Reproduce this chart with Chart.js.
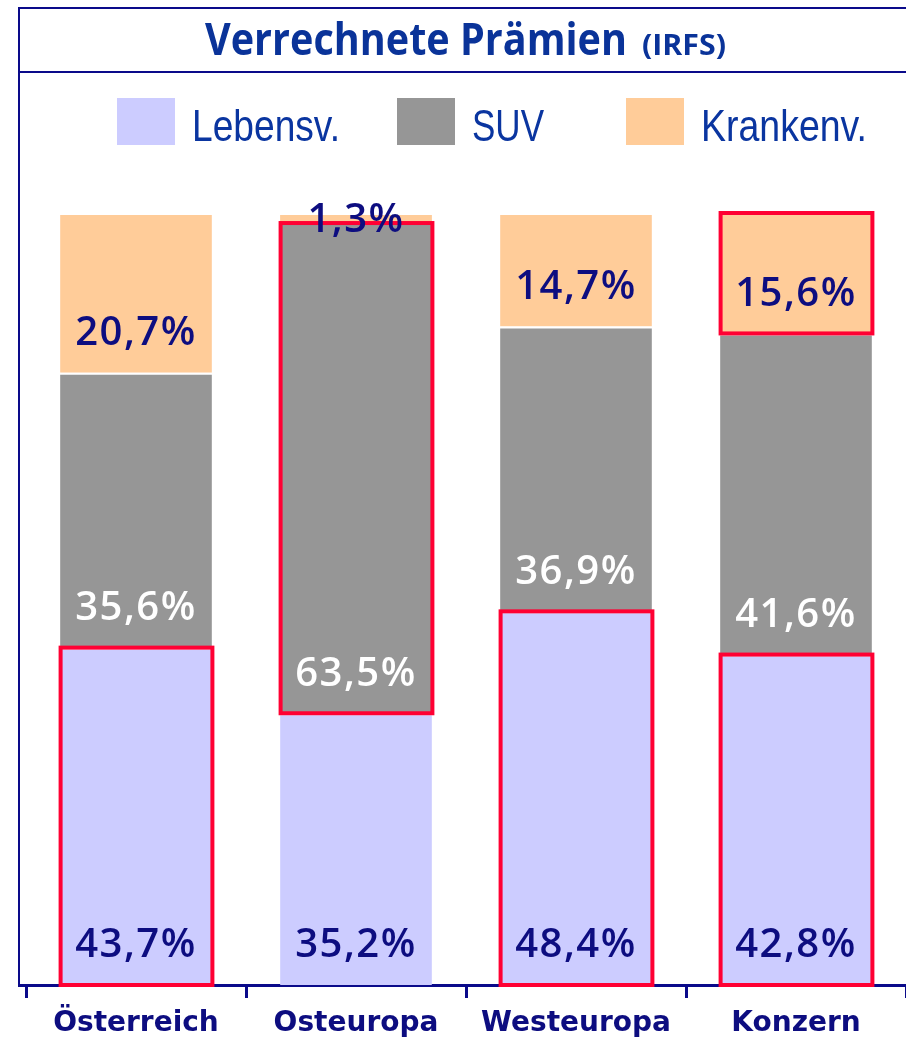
<!DOCTYPE html>
<html>
<head>
<meta charset="utf-8">
<script src="https://cdn.jsdelivr.net/npm/chart.js@4"></script>
<style>
html,body{margin:0;padding:0;background:#fff;}
#wrap{position:relative;width:906px;height:1043px;}
canvas{display:block;}
</style>
</head>
<body>
<div id="wrap"><canvas id="c" width="906" height="1043"></canvas></div>
<script>
const titleMain = "Verrechnete Prämien";
const titleSub = "(IRFS)";
const categories = ["Österreich", "Osteuropa", "Westeuropa", "Konzern"];
const seriesNames = ["Lebensv.", "SUV", "Krankenv."];
const lebensv = [43.7, 35.2, 48.4, 42.8];
const suv = [35.6, 63.5, 36.9, 41.6];
const krankenv = [20.7, 1.3, 14.7, 15.6];
const seriesColors = ["#ccccff", "#969696", "#ffcc99"];
const labelColors = ["#0d0d80", "#ffffff", "#0d0d80"];
// highlighted (red-framed) segments per series
const hlLebensv = [true, false, true, true];
const hlSuv = [false, true, false, false];
const hlKrankenv = [false, false, false, true];

const NAVY = "#0a0a8a";
const RED = "#ff0033";
const BLUE_TXT = "#0a35a0";

function fmt(v){ return v.toFixed(1).replace('.', ',') + '%'; }

function mkDataset(i, data, hl){
  return {
    label: seriesNames[i],
    data: data,
    backgroundColor: seriesColors[i],
    borderColor: '#ffffff',
    borderWidth: {top:2,left:0,right:0,bottom:0},
    borderSkipped: false,
    hl: hl
  };
}

function drawScaledText(ctx, text, x, y, targetW){
  const w = ctx.measureText(text).width;
  const sx = targetW ? targetW / w : 1;
  ctx.save();
  ctx.translate(x, y);
  ctx.scale(sx, 1);
  ctx.fillText(text, 0, 0);
  ctx.restore();
}

const decor = {
  id: 'decor',
  afterDraw(chart){
    const ctx = chart.ctx;
    const area = chart.chartArea;
    ctx.save();
    // frame
    ctx.strokeStyle = NAVY;
    ctx.lineWidth = 2;
    ctx.beginPath();
    ctx.moveTo(906, 8); ctx.lineTo(19, 8); ctx.lineTo(19, area.bottom);
    ctx.moveTo(19, 72); ctx.lineTo(906, 72);
    ctx.stroke();
    ctx.lineWidth = 3;
    ctx.beginPath();
    ctx.moveTo(18, area.bottom + 0.5); ctx.lineTo(area.left, area.bottom + 0.5);
    ctx.stroke();
    // title
    ctx.fillStyle = "#0a3399";
    ctx.textBaseline = 'alphabetic';
    ctx.textAlign = 'left';
    ctx.font = "bold 45px 'Open Sans', 'DejaVu Sans', sans-serif";
    drawScaledText(ctx, titleMain, 205, 55, 422);
    ctx.font = "bold 28px 'Open Sans', 'DejaVu Sans', sans-serif";
    drawScaledText(ctx, titleSub, 642, 55, 84);
    // legend
    const boxX = [117, 397, 626];
    const txtX = [192, 472, 701];
    const txtW = [148, 72, 166];
    ctx.font = "44px 'Liberation Sans', Arial, sans-serif";
    for (let i = 0; i < 3; i++){
      ctx.fillStyle = seriesColors[i];
      ctx.fillRect(boxX[i], 98, 58, 47);
      ctx.fillStyle = BLUE_TXT;
      drawScaledText(ctx, seriesNames[i], txtX[i], 141, txtW[i]);
    }
    ctx.restore();
  }
};

const valueLabels = {
  id: 'valueLabels',
  afterDatasetsDraw(chart){
    const ctx = chart.ctx;
    ctx.save();
    // red frames around highlighted segments
    ctx.strokeStyle = RED;
    ctx.lineWidth = 4;
    chart.data.datasets.forEach((ds, i) => {
      const meta = chart.getDatasetMeta(i);
      meta.data.forEach((el, k) => {
        if (!ds.hl[k]) return;
        const top = Math.min(el.y, el.base), base = Math.max(el.y, el.base);
        const left = el.x - el.width / 2;
        ctx.strokeRect(left + 0.5, top, el.width, base - top);
      });
    });
    ctx.textAlign = 'center';
    ctx.textBaseline = 'middle';
    ctx.font = "600 40px 'Open Sans', 'DejaVu Sans', sans-serif";
    try { ctx.letterSpacing = '1.5px'; } catch(e) {}
    chart.data.datasets.forEach((ds, i) => {
      const meta = chart.getDatasetMeta(i);
      meta.data.forEach((el, k) => {
        const top = Math.min(el.y, el.base), base = Math.max(el.y, el.base);
        const h = base - top;
        const y = h >= 78 ? base - 39 : (top + base) / 2 + 3;
        ctx.fillStyle = labelColors[i];
        ctx.fillText(fmt(ds.data[k]), el.x, y);
      });
    });
    ctx.restore();
  }
};

new Chart(document.getElementById('c'), {
  type: 'bar',
  data: {
    labels: categories,
    datasets: [
      mkDataset(0, lebensv, hlLebensv),
      mkDataset(1, suv, hlSuv),
      mkDataset(2, krankenv, hlKrankenv)
    ]
  },
  options: {
    responsive: false,
    animation: false,
    devicePixelRatio: 1,
    layout: { padding: { top: 213, left: 26, right: 0, bottom: 0 } },
    categoryPercentage: 1,
    barPercentage: 0.69,
    plugins: { legend: { display: false }, title: { display: false }, tooltip: { enabled: false } },
    scales: {
      x: {
        stacked: true,
        offset: true,
        grid: { display: true, drawOnChartArea: false, drawTicks: true, tickLength: 13, tickWidth: 3, tickColor: NAVY, offset: true },
        border: { display: true, color: NAVY, width: 3 },
        ticks: { color: "#0d0d80", font: { family: "'DejaVu Sans', sans-serif", size: 28, weight: 'bold' }, padding: 9, maxRotation: 0, autoSkip: false },
        afterFit(scale){ scale.height = 58; }
      },
      y: { stacked: true, display: false, min: 0, max: 100 }
    }
  },
  plugins: [decor, valueLabels]
});
</script>
</body>
</html>
